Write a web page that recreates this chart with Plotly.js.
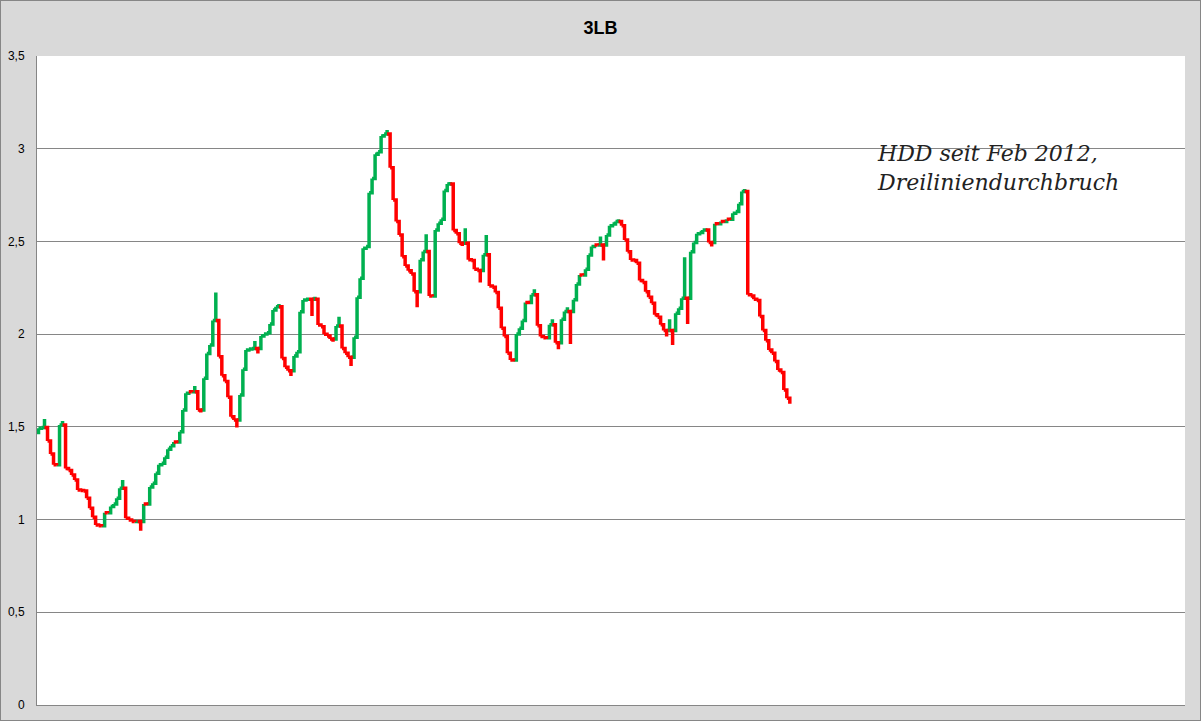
<!DOCTYPE html>
<html>
<head>
<meta charset="utf-8">
<script src="https://cdn.plot.ly/plotly-3.0.1.min.js"></script>
<style>
  html, body { margin: 0; padding: 0; background: #ffffff; }
  #chart { width: 1199px; height: 719px; border: 1px solid #868686; }
</style>
</head>
<body>
<div id="chart"></div>
<script>
// Three-line-break chart: opening level and brick closes
const startOpen = 1.469;
const closes = [
  1.492, 1.496, 1.543, 1.424, 1.354, 1.295, 1.292, 1.510, 1.532, 1.275,
  1.264, 1.241, 1.214, 1.160, 1.157, 1.154, 1.115, 1.061, 1.012, 0.971,
  0.967, 0.962, 1.037, 1.034, 1.070, 1.084, 1.115, 1.169, 1.214, 1.007,
  0.998, 0.989, 0.987, 0.998, 0.940, 1.084, 1.077, 1.176, 1.196, 1.250,
  1.295, 1.304, 1.336, 1.379, 1.398, 1.418, 1.412, 1.474, 1.591, 1.681,
  1.690, 1.686, 1.720, 1.591, 1.578, 1.762, 1.896, 1.941, 2.073, 2.224,
  1.878, 1.776, 1.744, 1.659, 1.555, 1.537, 1.496, 1.672, 1.810, 1.914,
  1.920, 1.923, 1.963, 1.896, 1.990, 2.001, 2.008, 2.055, 2.130, 2.148,
  2.163, 1.869, 1.821, 1.803, 1.774, 1.882, 1.905, 2.121, 2.184, 2.188,
  2.190, 2.098, 2.202, 2.049, 2.040, 1.999, 1.990, 1.974, 1.959, 2.044,
  2.094, 1.923, 1.897, 1.875, 1.828, 1.983, 2.199, 2.301, 2.463, 2.472,
  2.763, 2.840, 2.970, 2.984, 3.069, 3.079, 3.101, 2.898, 2.723, 2.607,
  2.535, 2.418, 2.368, 2.342, 2.324, 2.229, 2.145, 2.401, 2.446, 2.539,
  2.206, 2.203, 2.562, 2.598, 2.620, 2.775, 2.810, 2.821, 2.559, 2.541,
  2.490, 2.476, 2.571, 2.401, 2.397, 2.350, 2.343, 2.278, 2.428, 2.535,
  2.260, 2.253, 2.224, 2.140, 2.032, 1.987, 1.897, 1.861, 1.852, 2.001,
  2.032, 2.073, 2.170, 2.163, 2.212, 2.242, 2.045, 1.987, 1.981, 1.974,
  2.050, 2.080, 1.954, 1.918, 2.080, 2.122, 2.145, 1.947, 2.185, 2.271,
  2.319, 2.316, 2.350, 2.427, 2.472, 2.481, 2.478, 2.526, 2.397, 2.535,
  2.584, 2.594, 2.607, 2.620, 2.584, 2.508, 2.445, 2.400, 2.397, 2.382,
  2.289, 2.278, 2.229, 2.199, 2.167, 2.104, 2.091, 2.050, 2.019, 1.987,
  2.080, 1.942, 2.113, 2.140, 2.194, 2.415, 2.055, 2.445, 2.494, 2.541,
  2.548, 2.562, 2.571, 2.494, 2.472, 2.595, 2.590, 2.607, 2.602, 2.620,
  2.615, 2.652, 2.661, 2.703, 2.769, 2.783, 2.212, 2.206, 2.188, 2.181,
  2.095, 2.019, 1.965, 1.915, 1.897, 1.852, 1.807, 1.793, 1.699, 1.654,
  1.624
];
const totalSlots = 382;       // category slots on the x axis
const yTicks = [0, 0.5, 1, 1.5, 2, 2.5, 3, 3.5];
const titleText = "3LB";
const noteText = "HDD seit Feb 2012,<br>Dreiliniendurchbruch";

const upColor = "#00B050";
const downColor = "#FF0000";

// derive each brick's open with the line-break rule
const gx = [], gy = [], rx = [], ry = [];
let pO = startOpen, pC = startOpen;
closes.forEach((c, k) => {
  const i = k + 1;
  let o;
  if (k === 0) {
    o = startOpen;
  } else {
    const up = pC > pO;
    if (up) {
      if (c >= pC) o = pC; else if (c < pO) o = pO; else o = pC;
    } else {
      if (c <= pC) o = pC; else if (c > pO) o = pO; else o = pC;
    }
  }
  const isUp = c > o;
  const X = isUp ? gx : rx, Y = isUp ? gy : ry;
  X.push(i - 1, i, i, null);
  Y.push(o, o, c, null);
  pO = o; pC = c;
});

const traces = [
  { x: gx, y: gy, type: "scatter", mode: "lines", name: "auf",
    line: { color: upColor, width: 3.5 }, connectgaps: false, hoverinfo: "skip" },
  { x: rx, y: ry, type: "scatter", mode: "lines", name: "ab",
    line: { color: downColor, width: 3.5 }, connectgaps: false, hoverinfo: "skip" }
];

const layout = {
  width: 1199, height: 719,
  margin: { l: 36, r: 15, t: 55, b: 15, pad: 0 },
  paper_bgcolor: "#D9D9D9",
  plot_bgcolor: "#FFFFFF",
  separators: ",.",
  showlegend: false,
  title: {
    text: titleText,
    x: 0.5, xanchor: "center",
    y: 1 - 27 / 719, yanchor: "middle",
    font: { family: "Liberation Sans, Arial, sans-serif", size: 18, color: "#000000", weight: "bold" }
  },
  xaxis: {
    range: [0.5, totalSlots + 0.5],
    showticklabels: false, ticks: "",
    showgrid: false, zeroline: false,
    showline: true, linecolor: "#868686", linewidth: 1
  },
  yaxis: {
    range: [0, 3.5],
    tickvals: yTicks,
    ticks: "", ticklabelstandoff: 9,
    tickfont: { family: "Liberation Sans, Arial, sans-serif", size: 12, color: "#000000" },
    showgrid: true, gridcolor: "#868686", gridwidth: 1,
    zeroline: false,
    showline: true, linecolor: "#868686", linewidth: 1
  },
  annotations: [{
    text: noteText,
    xref: "paper", yref: "paper",
    x: (875 - 37) / 1148, y: 1 - (139 - 56) / 649,
    xanchor: "left", yanchor: "top", align: "left",
    showarrow: false,
    font: { family: "DejaVu Serif, serif", size: 22, color: "#222222", style: "italic" }
  }]
};

Plotly.newPlot("chart", traces, layout, { displayModeBar: false, staticPlot: true });
</script>
</body>
</html>
